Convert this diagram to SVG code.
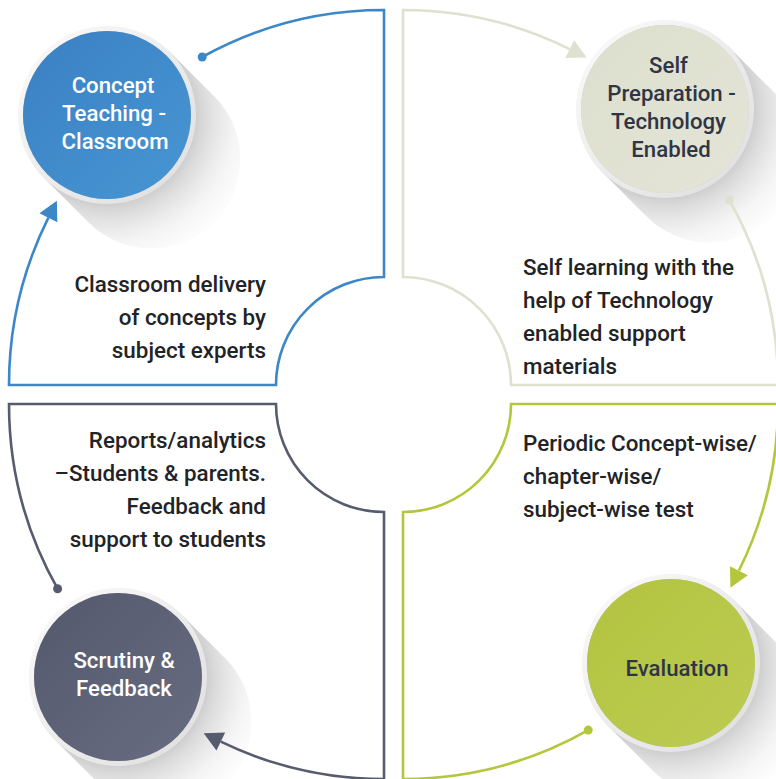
<svg xmlns="http://www.w3.org/2000/svg" width="776" height="779" viewBox="0 0 776 779">
<style>
.outline{fill:none;stroke-width:2.6;stroke-linejoin:miter}
.body{font-family:Roboto,"Liberation Sans",sans-serif;font-size:22.4px;font-weight:500;fill:#222326}
.ctext{font-family:Roboto,"Liberation Sans",sans-serif;font-size:22.2px;font-weight:500;text-anchor:middle}
.ring{fill:none;stroke:url(#ringGrad);stroke-width:5}
</style>
<defs>
<linearGradient id="ringGrad" x1="0" y1="0" x2="1" y2="1">
<stop offset="0" stop-color="#fbfbfb"/>
<stop offset="1" stop-color="#dedede"/>
</linearGradient>
<linearGradient id="gBlue" x1="0" y1="0" x2="1" y2="1">
<stop offset="0" stop-color="#3a80c2"/>
<stop offset="1" stop-color="#4896d4"/>
</linearGradient>
<linearGradient id="gBeige" x1="0" y1="0" x2="1" y2="1">
<stop offset="0" stop-color="#dcdecd"/>
<stop offset="1" stop-color="#e4e5d7"/>
</linearGradient>
<linearGradient id="gSlate" x1="0" y1="0" x2="1" y2="1">
<stop offset="0" stop-color="#53586d"/>
<stop offset="1" stop-color="#696d81"/>
</linearGradient>
<linearGradient id="gGreen" x1="0" y1="0" x2="1" y2="1">
<stop offset="0" stop-color="#b2c33f"/>
<stop offset="1" stop-color="#bdcc52"/>
</linearGradient>
<radialGradient id="shadowGrad" cx="0" cy="0" r="160" gradientUnits="userSpaceOnUse">
<stop offset="0.52" stop-color="#8c8c8c" stop-opacity="0.5"/>
<stop offset="0.6" stop-color="#9a9a9a" stop-opacity="0.38"/>
<stop offset="0.8" stop-color="#b8b8b8" stop-opacity="0.15"/>
<stop offset="1" stop-color="#d0d0d0" stop-opacity="0"/>
</radialGradient>
<path id="shadowShape" d="M-62.93,62.93 A89,89 0 0 1 62.93,-62.93 L107.93,-17.93 A89,89 0 0 1 -17.93,107.93 Z"/>
<marker id="aBlue" markerUnits="userSpaceOnUse" markerWidth="30" markerHeight="30" refX="0" refY="10" orient="auto" overflow="visible"><path d="M0,0 L19,10 L0,20 Z" fill="#3b87c8"/></marker>
<marker id="aBeige" markerUnits="userSpaceOnUse" markerWidth="30" markerHeight="30" refX="0" refY="10" orient="auto" overflow="visible"><path d="M0,0 L19,10 L0,20 Z" fill="#dfe1d0"/></marker>
<marker id="aSlate" markerUnits="userSpaceOnUse" markerWidth="30" markerHeight="30" refX="0" refY="10" orient="auto" overflow="visible"><path d="M0,0 L19,10 L0,20 Z" fill="#575b6f"/></marker>
<marker id="aGreen" markerUnits="userSpaceOnUse" markerWidth="30" markerHeight="30" refX="0" refY="10" orient="auto" overflow="visible"><path d="M0,0 L19,10 L0,20 Z" fill="#b4c73c"/></marker>
<marker id="dBlue" markerUnits="userSpaceOnUse" markerWidth="12" markerHeight="12" refX="5" refY="5" overflow="visible"><circle cx="5" cy="5" r="4.5" fill="#3b87c8"/></marker>
<marker id="dBeige" markerUnits="userSpaceOnUse" markerWidth="12" markerHeight="12" refX="5" refY="5" overflow="visible"><circle cx="5" cy="5" r="4.5" fill="#dfe1d0"/></marker>
<marker id="dSlate" markerUnits="userSpaceOnUse" markerWidth="12" markerHeight="12" refX="5" refY="5" overflow="visible"><circle cx="5" cy="5" r="4.5" fill="#575b6f"/></marker>
<marker id="dGreen" markerUnits="userSpaceOnUse" markerWidth="12" markerHeight="12" refX="5" refY="5" overflow="visible"><circle cx="5" cy="5" r="4.5" fill="#b4c73c"/></marker>
</defs>
<rect width="776" height="779" fill="#ffffff"/>

<g id="node-concept-teaching" transform="translate(107,115)">
<use href="#shadowShape" fill="url(#shadowGrad)"/>
<circle r="86.5" class="ring"/>
<circle r="84" fill="url(#gBlue)"/>
<text class="ctext" fill="#ffffff"><tspan x="6" y="-22">Concept</tspan><tspan x="7" y="6">Teaching -</tspan><tspan x="8" y="34">Classroom</tspan></text>
</g>

<g id="node-self-preparation" transform="translate(665,109)">
<use href="#shadowShape" fill="url(#shadowGrad)"/>
<circle r="86.5" class="ring"/>
<circle r="84" fill="url(#gBeige)"/>
<text class="ctext" fill="#2f3546"><tspan x="3.5" y="-36">Self</tspan><tspan x="6.5" y="-8">Preparation -</tspan><tspan x="3.5" y="20">Technology</tspan><tspan x="6" y="48">Enabled</tspan></text>
</g>

<g id="node-evaluation" transform="translate(671,663)">
<use href="#shadowShape" fill="url(#shadowGrad)"/>
<circle r="86.5" class="ring"/>
<circle r="84" fill="url(#gGreen)"/>
<text class="ctext" fill="#2f3546"><tspan x="6" y="13">Evaluation</tspan></text>
</g>

<g id="node-scrutiny-feedback" transform="translate(118,677)">
<use href="#shadowShape" fill="url(#shadowGrad)"/>
<circle r="86.5" class="ring"/>
<circle r="84" fill="url(#gSlate)"/>
<text class="ctext" fill="#ffffff"><tspan x="6" y="-9">Scrutiny &amp;</tspan><tspan x="6" y="19">Feedback</tspan></text>
</g>

<g id="connectors">
<path class="outline" stroke="#3b87c8" marker-start="url(#dBlue)" marker-end="url(#aBlue)" d="M202.2,57 A375,375 0 0 1 384,10 L384,277 A108,108 0 0 0 276,385 L9,385 A375,375 0 0 1 48.4,217.7"/>
<path class="outline" stroke="#dfe1d0" marker-start="url(#dBeige)" marker-end="url(#aBeige)" d="M729.1,199.8 A375,375 0 0 1 778,385 L511,385 A108,108 0 0 0 403,277 L403,10 A375,375 0 0 1 569.7,49.1"/>
<path class="outline" stroke="#b4c73c" marker-start="url(#dGreen)" marker-end="url(#aGreen)" d="M588.2,730.1 A375,375 0 0 1 403,779 L403,512 A108,108 0 0 0 511,404 L778,404 A375,375 0 0 1 738.9,570.7"/>
<path class="outline" stroke="#575b6f" marker-start="url(#dSlate)" marker-end="url(#aSlate)" d="M57.6,588.7 A375,375 0 0 1 9,404 L276,404 A108,108 0 0 0 384,512 L384,779 A375,375 0 0 1 220.8,741.6"/>
</g>

<g id="descriptions">
<text class="body" text-anchor="end"><tspan x="266" y="292">Classroom delivery</tspan><tspan x="266" y="325">of concepts by</tspan><tspan x="266" y="358">subject experts</tspan></text>
<text class="body"><tspan x="523" y="275">Self learning with the</tspan><tspan x="523" y="308">help of Technology</tspan><tspan x="523" y="341">enabled support</tspan><tspan x="523" y="374">materials</tspan></text>
<text class="body" text-anchor="end"><tspan x="266" y="448">Reports/analytics</tspan><tspan x="266" y="481">–Students &amp; parents.</tspan><tspan x="266" y="514">Feedback and</tspan><tspan x="266" y="547">support to students</tspan></text>
<text class="body"><tspan x="523" y="451">Periodic Concept-wise/</tspan><tspan x="523" y="484">chapter-wise/</tspan><tspan x="523" y="517">subject-wise test</tspan></text>
</g>
</svg>
